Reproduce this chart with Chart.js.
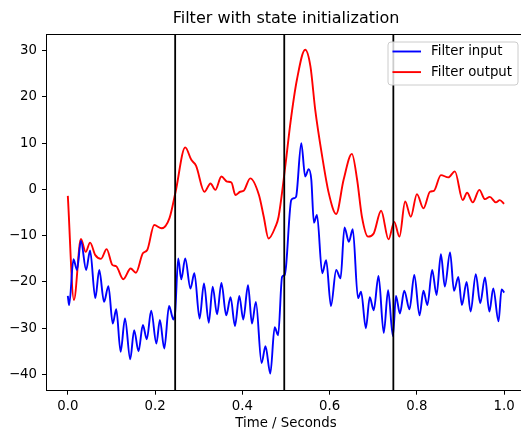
<!DOCTYPE html>
<html>
<head>
<meta charset="utf-8">
<script src="https://cdn.jsdelivr.net/npm/chart.js@4.4.1/dist/chart.umd.min.js"></script>
<style>
  html, body { margin: 0; padding: 0; background: #fff; overflow: hidden; width: 521px; height: 430px; }
</style>
</head>
<body>
<canvas id="filter-chart" width="527" height="430"></canvas>
<script>
// Filter input (noisy signal)
const inputTimes = [
  0.000, 0.003, 0.013, 0.021, 0.030, 0.042, 0.051, 0.063, 0.072, 0.083,
  0.093, 0.103, 0.111, 0.121, 0.131, 0.143, 0.152, 0.162, 0.172, 0.181,
  0.191, 0.203, 0.211, 0.221, 0.232, 0.242, 0.246, 0.253, 0.260, 0.269,
  0.281, 0.290, 0.302, 0.312, 0.323, 0.332, 0.342, 0.352, 0.363, 0.373,
  0.383, 0.393, 0.402, 0.413, 0.422, 0.431, 0.444, 0.453, 0.464, 0.474,
  0.482, 0.491, 0.497, 0.500, 0.512, 0.518, 0.523, 0.535, 0.544, 0.552,
  0.558, 0.564, 0.571, 0.583, 0.592, 0.603, 0.615, 0.625, 0.634, 0.644,
  0.653, 0.665, 0.672, 0.683, 0.692, 0.701, 0.712, 0.724, 0.734, 0.745,
  0.752, 0.761, 0.771, 0.783, 0.794, 0.806, 0.815, 0.824, 0.835, 0.845,
  0.855, 0.864, 0.876, 0.885, 0.895, 0.903, 0.914, 0.923, 0.935, 0.945,
  0.956, 0.966, 0.975, 0.987, 0.994, 1.000
];
const inputValues = [
  -23.0, -25.0, -15.1, -17.4, -11.1, -17.4, -13.2, -23.5, -17.4, -24.3,
  -20.9, -29.0, -25.9, -35.1, -27.9, -36.7, -30.4, -35.0, -29.3, -32.4,
  -26.2, -33.3, -28.2, -34.4, -25.2, -28.1, -26.5, -14.9, -19.4, -14.9,
  -21.4, -18.1, -27.9, -20.3, -28.8, -21.0, -27.0, -20.2, -27.2, -23.3,
  -29.5, -23.0, -28.1, -20.7, -29.0, -24.3, -37.5, -33.9, -39.8, -29.8,
  -31.5, -18.9, -18.5, -16.7, -2.3, -1.9, -1.6, 10.0, 2.8, 4.4,
  2.1, -7.2, -5.5, -18.1, -15.3, -25.2, -17.4, -19.2, -8.2, -11.3,
  -8.6, -23.5, -22.1, -30.0, -23.3, -26.1, -18.7, -31.0, -21.8, -31.7,
  -23.0, -26.8, -21.9, -25.9, -18.5, -27.2, -21.9, -25.0, -17.4, -22.8,
  -14.0, -21.0, -13.6, -21.9, -18.9, -25.0, -20.0, -26.4, -18.3, -24.6,
  -19.0, -26.4, -21.4, -28.5, -21.6, -22.3
];

// Filter output (smoothed)
const outputTimes = [
  0.000, 0.014, 0.030, 0.041, 0.051, 0.063, 0.076, 0.089, 0.102, 0.111,
  0.127, 0.144, 0.156, 0.172, 0.182, 0.198, 0.215, 0.233, 0.247, 0.269,
  0.283, 0.294, 0.313, 0.327, 0.338, 0.352, 0.365, 0.375, 0.384, 0.395,
  0.403, 0.418, 0.438, 0.449, 0.460, 0.476, 0.483, 0.499, 0.510, 0.525,
  0.544, 0.556, 0.567, 0.583, 0.598, 0.615, 0.632, 0.651, 0.663, 0.674,
  0.688, 0.701, 0.718, 0.735, 0.748, 0.760, 0.773, 0.786, 0.800, 0.815,
  0.830, 0.839, 0.855, 0.872, 0.887, 0.905, 0.915, 0.928, 0.943, 0.956,
  0.967, 0.981, 0.990, 1.000
];
const outputValues = [
  -1.4, -23.9, -10.7, -13.5, -11.5, -14.2, -15.0, -12.9, -16.3, -16.6,
  -19.4, -17.1, -18.0, -13.8, -13.1, -7.7, -8.4, -6.2, -0.5, 9.1,
  6.4, 5.1, -0.5, 1.3, -0.1, 2.8, 1.7, 1.5, -1.2, -0.5,
  -0.3, 2.4, -1.2, -5.9, -10.6, -8.0, -5.9, 5.5, 14.3, 23.7,
  30.2, 26.6, 17.2, 7.1, -0.8, -5.3, 2.1, 7.7, 2.1, -5.9,
  -10.2, -9.5, -4.6, -10.8, -7.0, -10.2, -2.6, -5.9, -1.0, -4.1,
  -0.5, -0.3, 3.1, 2.6, 3.9, -2.3, -0.7, -2.8, -0.1, -2.1,
  -1.6, -2.8, -2.3, -3.1
];

// state re-initialization times (vertical lines)
const segmentBounds = [0.246, 0.496, 0.746];

const xTicks = [0.0, 0.2, 0.4, 0.6, 0.8, 1.0];
const yTicks = [-40, -30, -20, -10, 0, 10, 20, 30];

Chart.defaults.font.family = "'DejaVu Sans', sans-serif";
Chart.defaults.font.size = 13.3;
Chart.defaults.color = "#000";

// black vertical lines at the segment boundaries, plus top/right spines
const boundsPlugin = {
  id: "bounds",
  afterDatasetsDraw(chart) {
    const { ctx, chartArea, scales } = chart;
    ctx.save();
    ctx.strokeStyle = "#000";
    ctx.lineWidth = 1.8;
    segmentBounds.forEach((t) => {
      const px = scales.x.getPixelForValue(t);
      ctx.beginPath();
      ctx.moveTo(px, chartArea.top);
      ctx.lineTo(px, chartArea.bottom);
      ctx.stroke();
    });
    ctx.lineWidth = 1;
    ctx.beginPath();
    ctx.moveTo(chartArea.left, chartArea.top + 0.5);
    ctx.lineTo(chartArea.right, chartArea.top + 0.5);
    ctx.lineTo(chartArea.right, chartArea.bottom);
    ctx.stroke();
    ctx.restore();
  },
};

// matplotlib-like legend box in the upper right corner
const boxLegendPlugin = {
  id: "boxLegend",
  afterDraw(chart) {
    const { ctx, chartArea } = chart;
    const w = 130, h = 43;
    const x0 = chartArea.right - 8.5 - w;
    const y0 = chartArea.top + 7.5;
    ctx.save();
    ctx.fillStyle = "rgba(255,255,255,0.8)";
    ctx.strokeStyle = "#cccccc";
    ctx.lineWidth = 1;
    ctx.beginPath();
    ctx.roundRect(x0 + 0.5, y0 + 0.5, w, h, 3);
    ctx.fill();
    ctx.stroke();
    ctx.font = "13.3px 'DejaVu Sans'";
    ctx.textBaseline = "middle";
    chart.data.datasets.forEach((ds, i) => {
      const ly = y0 + 10 + i * 20.6;
      ctx.strokeStyle = ds.borderColor;
      ctx.lineWidth = 1.9;
      ctx.beginPath();
      ctx.moveTo(x0 + 5, ly);
      ctx.lineTo(x0 + 33.5, ly);
      ctx.stroke();
      ctx.fillStyle = "#000";
      ctx.fillText(ds.label, x0 + 43.5, ly);
    });
    ctx.restore();
  },
};

new Chart("filter-chart", {
  type: "line",
  data: {
    datasets: [
      {
        label: "Filter input",
        data: inputTimes.map((t, i) => ({ x: t, y: inputValues[i] })),
        borderColor: "#0000ff",
        borderWidth: 1.9,
        pointRadius: 0,
        cubicInterpolationMode: "monotone",
      },
      {
        label: "Filter output",
        data: outputTimes.map((t, i) => ({ x: t, y: outputValues[i] })),
        borderColor: "#ff0000",
        borderWidth: 1.9,
        pointRadius: 0,
        cubicInterpolationMode: "monotone",
      },
    ],
  },
  options: {
    responsive: false,
    animation: false,
    devicePixelRatio: 1,
    layout: { padding: { left: 0, right: 1, top: 0, bottom: 0 } },
    plugins: {
      legend: { display: false },
      tooltip: { enabled: false },
      title: {
        display: true,
        fullSize: false,
        text: "Filter with state initialization",
        font: { size: 16, weight: "normal" },
        color: "#000",
        padding: { top: 9.4, bottom: 5.4 },
      },
    },
    scales: {
      x: {
        type: "linear",
        min: -0.05,
        max: 1.05,
        afterBuildTicks: (s) => { s.ticks = xTicks.map((v) => ({ value: v })); },
        afterFit: (s) => { s.height = 39.3; },
        ticks: { callback: (v) => v.toFixed(1), padding: 4, maxRotation: 0, autoSkip: false },
        grid: { drawOnChartArea: false, drawTicks: true, tickLength: 4, color: "#000" },
        border: { display: true, color: "#000", width: 1 },
        title: {
          display: true,
          text: "Time / Seconds",
          font: { lineHeight: 0.9 },
          padding: { top: 2, bottom: 0 },
        },
      },
      y: {
        min: -43.5,
        max: 33.6,
        afterBuildTicks: (s) => { s.ticks = yTicks.map((v) => ({ value: v })); },
        afterFit: (s) => { s.width = 46; },
        ticks: {
          callback: (v) => (v < 0 ? "\u2212" + Math.abs(v) : String(v)),
          padding: 5,
        },
        grid: { drawOnChartArea: false, drawTicks: true, tickLength: 4, color: "#000" },
        border: { display: true, color: "#000", width: 1 },
      },
    },
  },
  plugins: [boundsPlugin, boxLegendPlugin],
});
</script>
</body>
</html>
